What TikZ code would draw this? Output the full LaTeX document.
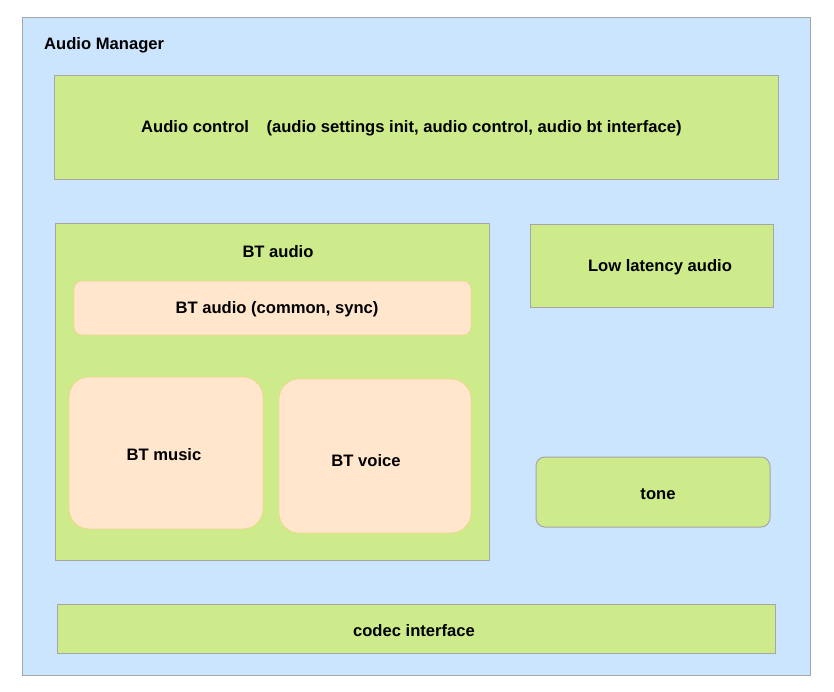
\documentclass[tikz,border=0pt]{standalone}
\usepackage{fontspec}
\setmainfont{Liberation Sans}
\definecolor{bluebg}{HTML}{CCE5FF}
\definecolor{greenbg}{HTML}{CDEB8B}
\definecolor{peach}{HTML}{FFE6CC}
\definecolor{peachline}{HTML}{F2D58E}
\definecolor{boxline}{HTML}{A6A6A6}
\tikzset{
  lbl/.style={font=\fontsize{16.6}{19}\selectfont\bfseries, text=black},
  greenbox/.style={fill=greenbg, draw=boxline, line width=1pt},
  peachbox/.style={fill=peach, draw=peachline, line width=0.8pt},
}
\begin{document}
\begin{tikzpicture}[x=1pt,y=-1pt]
\useasboundingbox (0,0) rectangle (834,692);
\fill[white] (0,0) rectangle (834,692);
\draw[fill=bluebg, draw=boxline, line width=1pt] (22,18) rectangle (810,675);
\node[lbl, anchor=west, inner sep=0pt] (mgr) at (44,45) {Audio Manager};

\draw[greenbox] (54,76) rectangle (778,180);
\node[lbl, anchor=west, inner sep=0pt] (ctrl) at (141,128) {Audio control\hspace{1.05em}(audio settings init, audio control, audio bt interface)};

\draw[greenbox] (55,224) rectangle (489,560);
\node[lbl] (bta) at (278,252) {BT audio};

\draw[peachbox, rounded corners=8pt] (74,281) rectangle (471,335);
\node[lbl] (btc) at (277,309) {BT audio (common, sync)};

\draw[peachbox, rounded corners=20pt] (69,377) rectangle (263,529);
\node[lbl] (btm) at (164,455) {BT music};

\draw[peachbox, rounded corners=20pt] (279,379) rectangle (471,533);
\node[lbl] (btv) at (366,461) {BT voice};

\draw[greenbox] (530,225) rectangle (773,307);
\node[lbl] (low) at (660,267) {Low latency audio};

\draw[greenbox, rounded corners=9pt] (536,457) rectangle (770,527);
\node[lbl] (tone) at (658,494) {tone};

\draw[greenbox] (57,604) rectangle (775,653);
\node[lbl] (codec) at (414,631) {codec interface};
\end{tikzpicture}
\end{document}
